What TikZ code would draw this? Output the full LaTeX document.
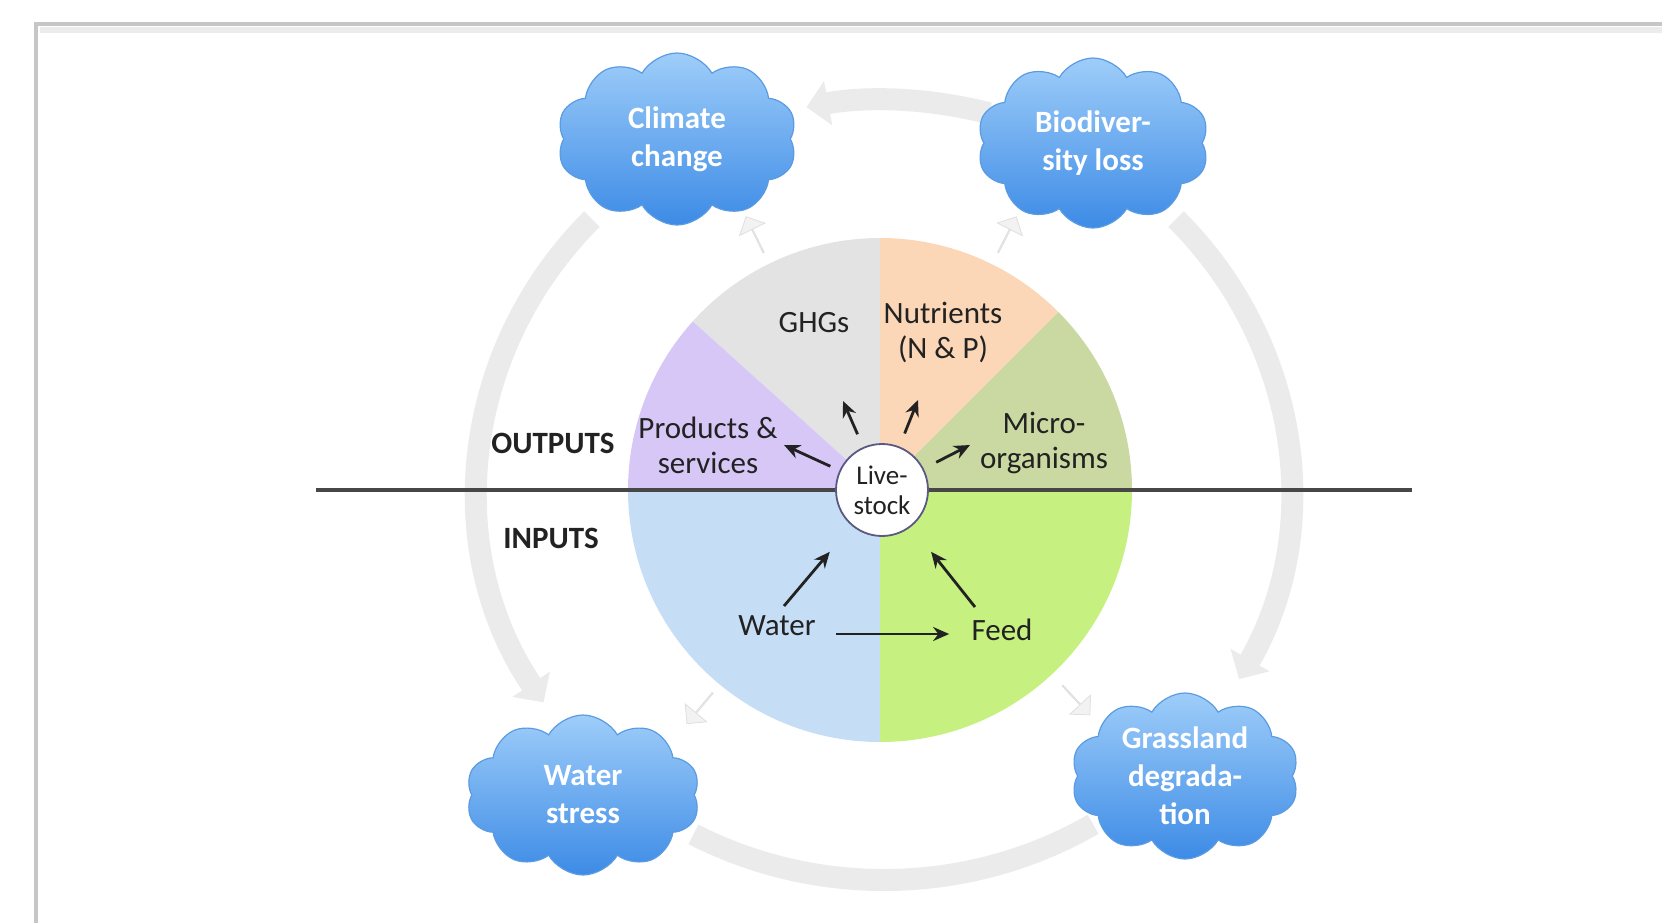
\documentclass[tikz,border=0pt]{standalone}
\usepackage{fontspec}
\setmainfont{Carlito}
\usetikzlibrary{shapes.symbols,shapes.arrows,arrows.meta}

\definecolor{sliceblue}{HTML}{C6DEF5}
\definecolor{slicelime}{HTML}{C6F07F}
\definecolor{sliceolive}{HTML}{C9D9A1}
\definecolor{slicepeach}{HTML}{FBD6B7}
\definecolor{slicegray}{HTML}{E3E3E3}
\definecolor{slicelilac}{HTML}{D7C7F6}
\definecolor{cloudtop}{HTML}{9ECDF9}
\definecolor{cloudbot}{HTML}{3D8BE6}
\definecolor{cloudedge}{HTML}{5A9BE2}
\definecolor{ringgray}{HTML}{EBEBEB}
\definecolor{inktext}{HTML}{222222}

% one slice of the disc, angles measured counter-clockwise from east
\newcommand{\pieslice}[3]{%
  \fill[#3] (pc) -- ++(-#1:252) arc[start angle=-#1, end angle=-#2, radius=252] -- cycle;}

\begin{document}
\begin{tikzpicture}[x=0.5pt,y=-0.5pt,
  lbl/.style={font=\fontsize{15.5}{17.5}\selectfont, align=center, text=inktext, inner sep=1pt},
  side/.style={font=\bfseries\fontsize{15.5}{17.5}\selectfont, text=inktext, inner sep=1pt},
  cloudbox/.style={cloud, cloud puffs=10, cloud puff arc=120, cloud ignores aspect,
    top color=cloudtop, bottom color=cloudbot, draw=cloudedge, line width=0.6pt,
    font=\bfseries\fontsize{15.5}{19}\selectfont, text=white, align=center, inner sep=0pt},
  ring/.style={line width=11pt, draw=ringgray},
  ringtip/.style={-{Triangle[length=11pt,width=22pt]}},
  flow/.style={-{Stealth[length=8pt,width=7pt]}, line width=1.4pt, draw=inktext},
  hint/.style={single arrow, single arrow head extend=4pt, minimum height=20pt,
    minimum width=14pt, inner sep=0pt, fill=gray!10, draw=gray!25, line width=0.4pt}
]
\useasboundingbox (0,0) rectangle (1662,923);

% page frame
\draw[gray!15, line width=3pt] (40,30) -- (1662,30);
\draw[gray!45, line width=1.6pt] (36,923) -- (36,24) -- (1662,24);

% outer cycle of impacts
\coordinate (rc) at (884,490);
\draw[ring, ringtip] (rc) ++(-75:406 and 390) arc[start angle=-75, end angle=-101, x radius=406, y radius=390];
\draw[ring, ringtip] (rc) ++(-136:406 and 390) arc[start angle=-136, end angle=-213, x radius=406, y radius=390];
\draw[ring, ringtip] (rc) ++(-44:406 and 390) arc[start angle=-44, end angle=29, x radius=406, y radius=390];
\draw[ring] (rc) ++(-242:406 and 390) arc[start angle=-242, end angle=-301, x radius=406, y radius=390];

% the disc
\coordinate (pc) at (880,490);
\pieslice{180}{270}{sliceblue}
\pieslice{270}{360}{slicelime}
\pieslice{0}{45}{sliceolive}
\pieslice{45}{90}{slicepeach}
\pieslice{90}{138}{slicegray}
\pieslice{138}{180}{slicelilac}

% faint pointers from the disc towards the clouds
\node[hint, rotate=116] (h1) at (755,235) {};
\node[hint, rotate=63] (h2) at (1007,235) {};
\node[hint, rotate=-130] (h3) at (700,708) {};
\node[hint, rotate=-47] (h4) at (1076,700) {};

% outputs / inputs divider
\coordinate (hl) at (316,490);
\coordinate (hr) at (1412,490);
\draw[line width=1.6pt, draw=black!72] (hl) -- (hr);

\node[side] (outs) at (553,443) {OUTPUTS};
\node[side] (ins) at (551,538) {INPUTS};

% livestock hub
\node[circle, draw=black!45!blue!30!gray, line width=0.9pt, fill=white, minimum size=46pt,
  inner sep=0pt, align=center, font=\fontsize{13.5}{15}\selectfont, text=inktext] (ls) at (882,490) {Live-\\stock};

% slice labels
\node[lbl] (ghg) at (814,323) {GHGs};
\node[lbl] (nut) at (943,332) {Nutrients\\(N \& P)};
\node[lbl] (prod) at (708,445) {Products \&\\services};
\node[lbl] (micro) at (1044,443) {Micro-\\organisms};
\node[lbl] (water) at (777,626) {Water};
\node[lbl] (feed) at (1002,630) {Feed};

% arrow end points
\coordinate (tProd) at (784,445);
\coordinate (tGhg) at (843,401);
\coordinate (tNut) at (918,400);
\coordinate (tMicro) at (970,445);
\coordinate (sWater) at (784,606);
\coordinate (sFeed) at (975,607);

\draw[flow, shorten <=5pt] (ls) -- (tProd);
\draw[flow, shorten <=7pt] (ls) -- (tGhg);
\draw[flow, shorten <=7pt] (ls) -- (tNut);
\draw[flow, shorten <=7pt] (ls) -- (tMicro);
\draw[flow, shorten >=17pt] (sWater) -- (ls);
\draw[flow, shorten >=16pt] (sFeed) -- (ls);
\draw[flow, shorten <=9pt, shorten >=10pt] ([yshift=-4pt]water.east) -- ([yshift=-2pt]feed.west);

% impact clouds
\node[cloudbox, minimum width=120pt, minimum height=86pt] (cc) at (677,139) {Climate\\change};
\node[cloudbox, minimum width=116pt, minimum height=85pt] (bio) at (1093,143) {Biodiver-\\sity loss};
\node[cloudbox, minimum width=117pt, minimum height=80pt] (ws) at (583,795) {Water\\stress};
\node[cloudbox, minimum width=114pt, minimum height=83pt] (gd) at (1185,776) {Grassland\\degrada-\\tion};
\end{tikzpicture}
\end{document}
